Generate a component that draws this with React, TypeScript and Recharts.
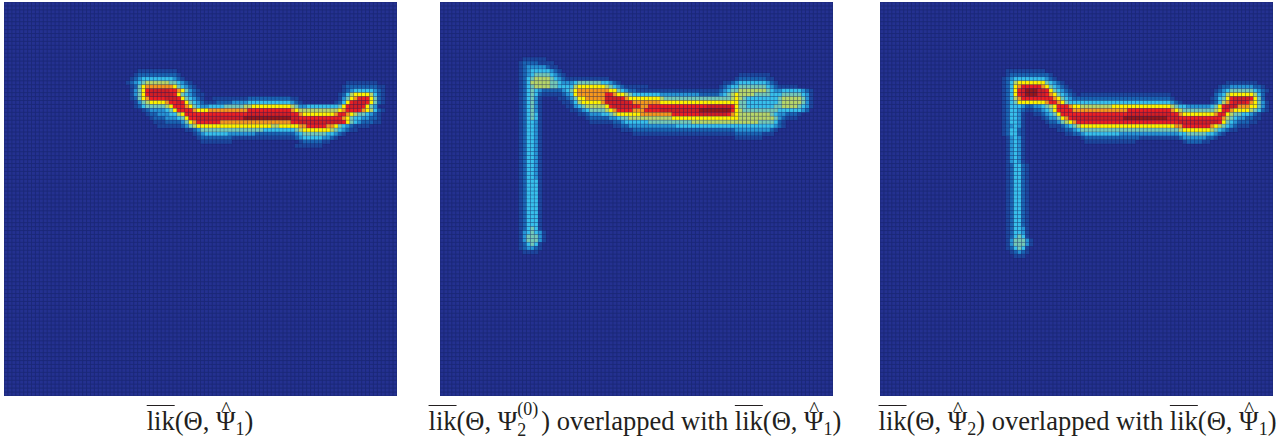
import React from 'react';
import { ScatterChart, Scatter, XAxis, YAxis, CartesianGrid } from 'recharts';

// value levels 1..11 of the heat scale, level 0 is the background
const levelColors = ['#243190', '#1e479f', '#1b64b4', '#2794d6', '#38c0ec', '#74c9b8', '#b6d66a', '#fff200', '#f7981d', '#ed2024', '#d11f26', '#98181b'];

const panelOneFirstCol = 30;
const panelOneFirstRow = 17;
const panelOneRows = [
  '0000111111 1111000000',
  '0001222222 2222100000',
  '0012344444 4443210000',
  '0123456666 6655432100 0000000000 0000000000 0000000000 0000000111 1111100000',
  '0012578888 8887543210 0000000000 0000000000 0000000000 0000001222 2222211',
  '0013579aaa aa99875321 0000000000 0000000000 0000000000 0000001234 4444321',
  '0013579aaa aaa9754321 1000000000 0000000000 0000000000 0000012467 7776421',
  '0012578999 9aaa975432 1001111111 1122222222 2221100000 0000013578 9997521',
  '0001356777 7899a97543 2111222233 3344444444 4443210000 000012479a aa97521',
  '0001245555 5679998754 3344445555 5667777777 7776533444 44444579aa a9753',
  '0000012333 3457999987 7788888888 8899999999 9998766666 6666678999 9876421',
  '0000001223 3344679999 9999999999 99aaaaaaaa aaa9987777 7777899876 554321',
  '0000000122 233345799a aaaaaaaaaa abbbbbbbbb bbbaa99999 9999998754 433221',
  '0000000011 1222235789 9999988888 8888888888 88899aaaaa aaaaaa9754 3222110',
  '0000000001 1111123567 7777777777 7777777766 7777788999 9988754321 1110000',
  '0000000000 0000001123 5555555555 5555554444 4444567777 7776543211',
  '0000000000 0000000012 3444444333 3333222222 2222345555 5544321',
  '0000000000 0000000001 2222222211 1111111111 1111234444 43321',
  '0000000000 0000000000 1111111100 0000000000 0000012222 2110',
  '0000000000 0000000000 0000000000 0000000000 0000111111 1000',
];

const panelTwoFirstCol = 18;
const panelTwoFirstRow = 14;
const panelTwoRows = [
  '0001111110',
  '0012222111 1000000000',
  '0012333332 1100000000',
  '0012344444 3210000000',
  '0012345555 4321000000 0000000000 0000000000 0000000000 0000000011 1111110000',
  '0012456666 5432111111 1111100000 0000000000 0000000000 0000000122 2222211000',
  '0012466666 5543334555 5554432100 0000000000 0000000000 0000112344 4444432100',
  '0012456666 5544446777 7777654321 1111100000 0000000000 0001234455 5555543211 1110',
  '0012454322 2223457888 8888877543 2211111111 1111111111 1112345566 6666654334 4444321',
  '0012454211 1112347888 8888998776 5444444433 3333333322 2223456766 6655554445 5555431',
  '0012453100 0011235778 8888aaaa98 7777777765 5555555555 5555556765 4444444456 6666531',
  '0012453100 0001124677 7778aaaaaa 9888888877 7777777777 7777777755 4444444456 6666531',
  '0012453100 0000113456 666679aaaa a998899999 9999999999 aaaaaa9755 4444444556 6665431',
  '0012453100 0000011234 5555678999 98889999aa aaaaaaaabb bbbbbb9765 5555555544 444432',
  '0012454100 0000000112 3334456777 7778888888 89999999aa aaaaa98766 6666665433 2221',
  '0012454100 0000000001 2222233455 6666666666 6777777777 7777777766 6666666532 111',
  '0012443100 0000000000 1111112234 4444455555 5555556666 6666666666 6665555421',
  '0012443100 0000000000 0000001122 3333333333 3344444444 4444444444 4444444321',
  '0012443100 0000000000 0000000011 1222222222 2222222222 2222222333 3333332100',
  '0012443100 0000000000 0000000000 0111111111 1111111111 1111111222 2222111000',
  '0012443100 0000000000 0000000000 0000000000 0000000000 0000000111 1111000000',
  '0012443100', '0012443100', '0012443100', '0012443100', '0012443100',
  '0012443100', '0012443100', '0012443100', '0012443100', '0012443100',
  '0012444100', '0012444100', '0012444100', '0012444100', '0012444100', '0012444100',
  '0012444100', '0012444100', '0012444100', '0012444100', '0012444100', '0012444100',
  '0012454100', '0013454310', '0013555310', '0013555310', '0012454100', '0012332100', '0001111000',
];

const panelThreeFirstCol = 31;
const panelThreeFirstRow = 17;
const panelThreeRows = [
  '0111111111 1000000000',
  '0122222222 2210000000',
  '1234444444 4321000000',
  '1246777777 7543210000 0000000000 0000000000 0000000000 0000000111 11111',
  '1247899999 8754321000 0000000000 0000000000 0000000000 0000012233 3333221',
  '12479abbba a975432100 0000000000 0000000000 0000000000 0000123455 5555432100',
  '12479abbba a987543210 1111111111 1111111111 1110000000 0000234677 7777642',
  '1246899999 9998754322 2222222222 2222222222 2221000000 000124579a aaa9752',
  '1245777777 7899875444 4444444444 4444444444 4443210000 000124689a aa987531',
  '1244432233 4567999877 6666666677 7777777777 7776544333 33345 79aaa 88877531',
  '1244321122 3457999988 8888888888 8899999999 9998765555 5555679987 77765421',
  '1244310011 2345799999 9999999999 99aaaaaaaa aaa9987777 7777899765 544321',
  '1244310000 123357 89aa aaaaaaaaaa abbbbbbbbb bbaaa99999 9999998654 332211',
  '1244310000 0122356789 9999999999 9999999999 99999aaaaa aaaaa97543 222110',
  '1234310000 0011123456 7777777777 7777777777 7777889999 9998765432 111',
  '1244210000 0000112234 5555555555 5555555555 5555567777 7776543211',
  '1244210000 0000001122 3444444444 3333333333 3333344555 554432100',
  '0134310000 0000000000 1222222222 2222211111 1111123333 33221',
  '0134310000 0000000000 0111111111 1111000000 0000001222 2110',
  '0134310000', '0134310000', '0134310000', '0134310000', '0134310000',
  '0124421000', '0124421000', '0124421000', '0124421000', '0124421000',
  '0124421000', '0124421000', '0124421000', '0124421000', '0124421000',
  '0124421000', '0124421000', '0124421000', '0124421000', '0124421000',
  '0124421000', '0124431000', '0124431000', '0124541000', '0135553100',
  '0135553100', '0124541000', '0012321000', '0001110000',
];

const gridTicks = Array.from({ length: 101 }, (_, i) => i);
const cellW = 3.93;
const cellH = 3.94;

function toPoints(rows: string[], firstCol: number, firstRow: number) {
  const points: { col: number; row: number; level: number }[] = [];
  rows.forEach((text, r) => {
    text.replace(/\s/g, '').split('').forEach((ch, c) => {
      const level = parseInt(ch, 16);
      if (level > 0) points.push({ col: firstCol + c + 0.5, row: firstRow + r + 0.5, level });
    });
  });
  return points;
}

function HeatCell(props: any) {
  const { cx, cy, payload } = props;
  return (
    <rect
      x={cx - cellW / 2}
      y={cy - cellH / 2}
      width={cellW}
      height={cellH}
      fill={levelColors[payload.level]}
      stroke="rgba(15,20,70,0.2)"
      strokeWidth={0.8}
    />
  );
}

function Panel({ left, points }: { left: number; points: { col: number; row: number; level: number }[] }) {
  return (
    <div style={{ position: 'absolute', left, top: 2 }}>
      <ScatterChart width={393} height={394} margin={{ top: 0, right: 0, bottom: 0, left: 0 }}>
        <CartesianGrid fill={levelColors[0]} fillOpacity={1} stroke="#1b2877" strokeWidth={0.9} />
        <XAxis type="number" dataKey="col" domain={[0, 100]} ticks={gridTicks} interval={0} hide />
        <YAxis type="number" dataKey="row" domain={[0, 100]} ticks={gridTicks} interval={0} reversed hide />
        <Scatter data={points} shape={<HeatCell />} isAnimationActive={false} />
      </ScatterChart>
    </div>
  );
}

const Lik = () => <span style={{ textDecoration: 'overline', textDecorationThickness: 1 }}>lik</span>;
const smallScript: React.CSSProperties = { fontSize: 18, position: 'relative', top: 5 };

// hat stacked over the Psi, the combining accent does not render well in these fonts
const PsiHat = () => (
  <span style={{ position: 'relative', display: 'inline-block' }}>
    Ψ
    <span style={{ position: 'absolute', left: 5, top: -12, fontSize: 22 }}>^</span>
  </span>
);

function Caption({ left, width, children }: { left: number; width: number; children: React.ReactNode }) {
  return (
    <div
      style={{
        position: 'absolute',
        left,
        top: 406,
        width,
        textAlign: 'center',
        whiteSpace: 'nowrap',
        fontFamily: '"Liberation Serif", serif',
        fontSize: 26.5,
        lineHeight: '30px',
        color: '#231f20',
      }}
    >
      {children}
    </div>
  );
}

export default function App() {
  return (
    <div style={{ position: 'absolute', left: 0, top: 0, width: 1285, height: 441, background: '#fff', overflow: 'hidden' }}>
      <Panel left={4} points={toPoints(panelOneRows, panelOneFirstCol, panelOneFirstRow)} />
      <Panel left={440} points={toPoints(panelTwoRows, panelTwoFirstCol, panelTwoFirstRow)} />
      <Panel left={880} points={toPoints(panelThreeRows, panelThreeFirstCol, panelThreeFirstRow)} />
      <Caption left={100} width={200}>
        <Lik />(Θ, <PsiHat /><span style={smallScript}>1</span>)
      </Caption>
      <Caption left={400} width={470}>
        <Lik />(Θ, Ψ
        <span style={{ display: 'inline-block', width: 24, position: 'relative' }}>
          <span style={{ ...smallScript, position: 'absolute', left: 0, top: -12 }}>(0)</span>
          <span style={{ ...smallScript, position: 'absolute', left: 0, top: 9 }}>2</span>
          &nbsp;
        </span>
        ) overlapped with <Lik />(Θ, <PsiHat /><span style={smallScript}>1</span>)
      </Caption>
      <Caption left={850} width={455}>
        <Lik />(Θ, <PsiHat /><span style={smallScript}>2</span>) overlapped with <Lik />(Θ, <PsiHat /><span style={smallScript}>1</span>)
      </Caption>
    </div>
  );
}
